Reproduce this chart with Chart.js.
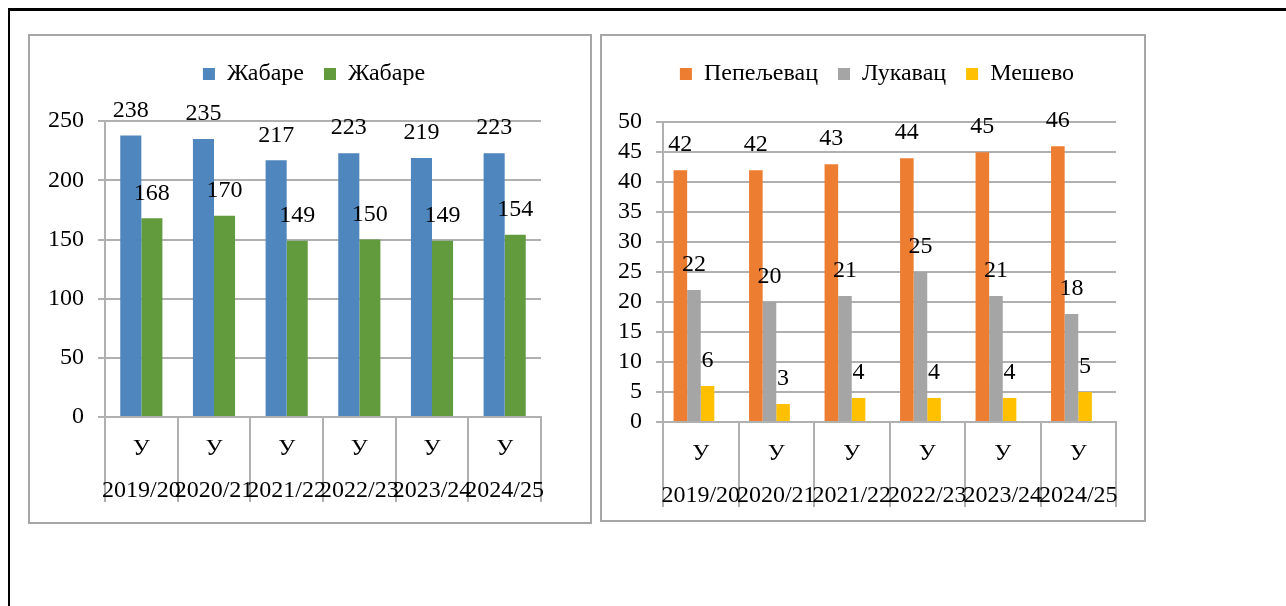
<!DOCTYPE html>
<html>
<head>
<meta charset="utf-8">
<script src="https://cdn.jsdelivr.net/npm/chart.js@4.4.1/dist/chart.umd.min.js"></script>
<style>
    body { margin: 0; background: #fff; }
    .frame { position: absolute; left: 8px; top: 8px; width: 1300px; height: 620px;
             border-top: 3px solid #000; border-left: 2px solid #000; }
    .panel { position: absolute; box-sizing: border-box; border: 2px solid #a6a6a6; }
    #leftPanel { left: 28px; top: 34px; width: 564px; height: 490px; }
    #rightPanel { left: 600px; top: 34px; width: 546px; height: 488px; }
</style>
</head>
<body>
<div class="frame"></div>
<div class="panel" id="leftPanel"><canvas id="leftChart" width="560" height="486"></canvas></div>
<div class="panel" id="rightPanel"><canvas id="rightChart" width="542" height="484"></canvas></div>

<script>
// Kategorien (zweizeilig)
const years = ['2019/20', '2020/21', '2021/22', '2022/23', '2023/24', '2024/25'];
const rowLabel = 'У';

// linkes Diagramm
const leftNames = ['Жабаре', 'Жабаре'];
const leftFirst = [238, 235, 217, 223, 219, 223];
const leftSecond = [168, 170, 149, 150, 149, 154];
const leftTicks = {min: 0, max: 250, step: 50};

// rechtes Diagramm
const rightNames = ['Пепељевац', 'Лукавац', 'Мешево'];
const pepeljevac = [42, 42, 43, 44, 45, 46];
const lukavac = [22, 20, 21, 25, 21, 18];
const meshevo = [6, 3, 4, 4, 4, 5];
const rightTicks = {min: 0, max: 50, step: 5};

const FONT = 'Liberation Serif, Times New Roman, serif';
const GRID = '#b0b0b0';

// Werte über den Balken
const valueLabels = {
    id: 'valueLabels',
    afterDatasetsDraw(chart) {
        const ctx = chart.ctx;
        ctx.save();
        ctx.font = '24px ' + FONT;
        ctx.fillStyle = '#000';
        ctx.textAlign = 'center';
        ctx.textBaseline = 'middle';
        chart.data.datasets.forEach((ds, i) => {
            const meta = chart.getDatasetMeta(i);
            meta.data.forEach((bar, j) => {
                if (ds.data[j] == null) return;
                ctx.fillText(ds.data[j], bar.x, bar.y - 25);
            });
        });
        ctx.restore();
    }
};

function makeOptions(ticks, yWidth, rightSpace, xHeight, gap, catPct) {
    return {
        responsive: false,
        animation: false,
        devicePixelRatio: 1,
        layout: {padding: {top: 6, left: 8, right: 0, bottom: 0}},
        datasets: {bar: {categoryPercentage: catPct, barPercentage: 1}},
        plugins: {
            tooltip: {enabled: false},
            legend: {
                position: 'top',
                labels: {
                    boxWidth: 12,
                    boxHeight: 12,
                    color: '#000',
                    font: {family: FONT, size: 24},
                    padding: 20,
                    filter: (item) => item.text !== ''
                }
            },
            // leerer Untertitel = Abstand zwischen Legende und Diagramm
            subtitle: {
                display: true,
                text: '',
                weight: 500,
                font: {size: 1},
                padding: {top: gap, bottom: 0}
            }
        },
        scales: {
            x: {
                afterFit: (scale) => { scale.height = xHeight; },
                border: {display: true, color: GRID, width: 2},
                grid: {offset: true, drawOnChartArea: false, tickLength: 85, color: GRID, lineWidth: 2},
                ticks: {
                    autoSkip: false,
                    maxRotation: 0,
                    minRotation: 0,
                    padding: -74,
                    color: '#000',
                    font: {family: FONT, size: 24, lineHeight: 1.75}
                }
            },
            y: {
                min: ticks.min,
                max: ticks.max,
                afterFit: (scale) => { scale.width = yWidth; },
                border: {display: true, color: GRID, width: 2},
                grid: {color: GRID, lineWidth: 2, tickLength: 7},
                ticks: {
                    stepSize: ticks.step,
                    autoSkip: false,
                    padding: 14,
                    color: '#000',
                    font: {family: FONT, size: 24, lineHeight: 1}
                }
            },
            // leere rechte Achse nur als Platzhalter (Rand rechts)
            yRight: {
                position: 'right',
                afterFit: (scale) => { scale.width = rightSpace; },
                border: {display: false},
                grid: {display: false},
                ticks: {display: false}
            }
        }
    };
}

const labels = years.map(y => [rowLabel, y]);

new Chart(document.getElementById('leftChart'), {
    type: 'bar',
    data: {
        labels: labels,
        datasets: [
            {label: leftNames[0], data: leftFirst, backgroundColor: '#4f86bd'},
            {label: leftNames[1], data: leftSecond, backgroundColor: '#629b3e'}
        ]
    },
    options: makeOptions(leftTicks, 67, 49, 105, 24, 0.58),
    plugins: [valueLabels]
});

new Chart(document.getElementById('rightChart'), {
    type: 'bar',
    data: {
        labels: labels,
        datasets: [
            {label: rightNames[0], data: pepeljevac, backgroundColor: '#ed7d31'},
            {label: rightNames[1], data: lukavac, backgroundColor: '#a5a5a5'},
            {label: rightNames[2], data: meshevo, backgroundColor: '#ffc000'},
            // leere vierte Reihe (Platzhalter in der Gruppe)
            {label: '', data: [null, null, null, null, null, null], backgroundColor: 'rgba(0,0,0,0)'}
        ]
    },
    options: makeOptions(rightTicks, 53, 28, 98, 25, 0.72),
    plugins: [valueLabels]
});
</script>
</body>
</html>
